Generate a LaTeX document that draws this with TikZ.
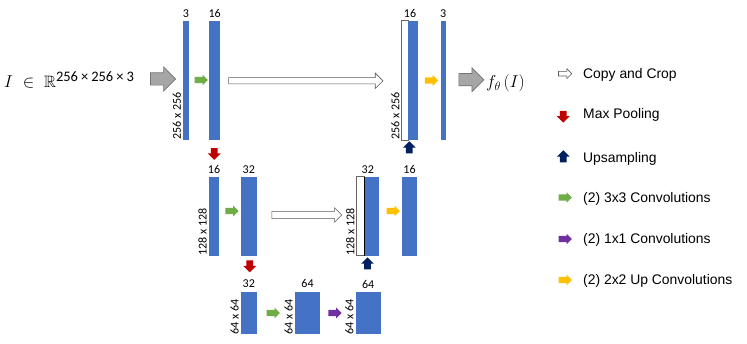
\documentclass[tikz,border=0pt]{standalone}
\usepackage{amssymb}
\usepackage{fontspec}
\newfontfamily\carlito{Carlito}
\newfontfamily\legendfont{Liberation Sans}
\usetikzlibrary{shapes.arrows,positioning,calc}
\definecolor{unetblue}{RGB}{68,114,196}
\definecolor{convgreen}{RGB}{112,173,71}
\definecolor{poolred}{RGB}{192,0,0}
\definecolor{upsnavy}{RGB}{0,32,96}
\definecolor{onepurple}{RGB}{112,48,160}
\definecolor{upcyellow}{RGB}{255,192,0}
\definecolor{iogray}{RGB}{166,166,166}
\tikzset{
  fmapbar/.style 2 args={fill=unetblue, inner sep=0pt, outer sep=0pt, minimum width=#1, minimum height=#2},
  cropbar/.style 2 args={fill=white, draw=black!60, line width=0.6pt, inner sep=0pt, outer sep=0pt, minimum width=#1, minimum height=#2},
  chlabel/.style={font=\carlito\fontsize{12}{12}\selectfont, inner sep=0pt},
  dimlabel/.style={font=\carlito\fontsize{12}{12}\selectfont, rotate=90, anchor=south west, inner xsep=0pt, inner ysep=2pt},
  blockarrow/.style={single arrow, inner xsep=0pt, inner ysep=3pt, outer sep=0pt, minimum height=13.3pt, single arrow head extend=2.2pt},
  convarrow/.style={blockarrow, fill=convgreen},
  onearrow/.style={blockarrow, fill=onepurple},
  upconvarrow/.style={blockarrow, fill=upcyellow},
  poolarrow/.style={blockarrow, fill=poolred, shape border rotate=270, minimum height=11.8pt, inner xsep=3.2pt, inner ysep=0pt, single arrow head extend=3pt},
  upsarrow/.style={blockarrow, fill=upsnavy, shape border rotate=90, minimum height=12pt, inner xsep=3.2pt, inner ysep=0pt, single arrow head extend=3pt},
  copyarrow/.style={blockarrow, fill=white, draw=black!65, line width=0.6pt, inner ysep=2.8pt, single arrow head extend=4.6pt},
  ioarrow/.style={blockarrow, fill=iogray, draw=black!55, line width=0.7pt, minimum height=25pt, inner ysep=5.8pt, single arrow head extend=5.8pt},
  legtext/.style={font=\legendfont\fontsize{13.9}{16}\selectfont, anchor=base west, inner sep=0pt},
}

\begin{document}
\begin{tikzpicture}[x=1pt,y=-1pt]
\useasboundingbox (0,0) rectangle (747,344);
\node[anchor=base west, inner sep=0pt, font=\fontsize{16.5}{18}\selectfont] (inimg) at (4,87.3)
  {$I\ \in\ \mathbb{R}^{\mbox{\carlito\fontsize{14.5}{14.5}\selectfont 256\kern3pt×\kern3pt256\kern3pt×\kern3pt3}}$};
\node[ioarrow] (inarrow) at (160,79) {};
\node[fmapbar={5.5pt}{119.3pt}] (in3) at (186,80.35) {};
\node[fmapbar={10.5pt}{119.3pt}] (e16) at (214.7,80.35) {};
\node[cropbar={6.6pt}{119.3pt}] (cc16) at (405,80.35) {};
\node[fmapbar={10pt}{119.3pt}, right=0pt of cc16] (d16) {};
\node[fmapbar={5pt}{119.3pt}] (out3) at (443.2,80.35) {};
\node[ioarrow] (outarrow) at (468.3,79.7) {};
\node[anchor=base west, inner sep=0pt, font=\fontsize{18}{20}\selectfont] (outimg) at (486,87.5) {$f_{\theta}\,(I)$};
\coordinate (d16top) at ($(cc16.north west)!0.5!(d16.north east)$);
\node[chlabel, above=3.3pt of in3] (in3lab) {3};
\node[chlabel, above=3.3pt of e16] (e16lab) {16};
\node[chlabel, above=3.3pt of d16top] (d16lab) {16};
\node[chlabel, above=3.3pt of out3] (out3lab) {3};
\node[dimlabel] (in3dim) at (in3.south west) {256 x 256};
\node[dimlabel] (cc16dim) at (cc16.south west) {256 x 256};
\node[convarrow] (conv1) at (199.7,80) {};
\node[copyarrow, minimum height=154.3pt] (copy1) at (304.2,80.8) {};
\node[upconvarrow] (upconv1) at (429.8,80.5) {};
\node[poolarrow] (pool1) at (214.3,152.3) {};
\node[upsarrow] (ups1) at (409.3,149) {};
\node[fmapbar={10pt}{79pt}] (m16) at (214,216.2) {};
\node[fmapbar={15.6pt}{79pt}] (m32) at (248.8,216.2) {};
\node[cropbar={7.3pt}{79pt}] (cc32) at (360.3,216.2) {};
\node[fmapbar={15pt}{79pt}, right=0pt of cc32] (d32) {};
\draw[black, line width=0.9pt] (d32.north west) -- (d32.south west);
\node[fmapbar={15.6pt}{79pt}] (u16) at (409.5,216.2) {};
\coordinate (d32top) at ($(cc32.north west)!0.5!(d32.north east)$);
\node[chlabel, above=3.4pt of m16] (m16lab) {16};
\node[chlabel, above=3.4pt of m32] (m32lab) {32};
\node[chlabel, above=3.4pt of d32top] (d32lab) {32};
\node[chlabel, above=3.4pt of u16] (u16lab) {16};
\node[dimlabel] (m16dim) at (m16.south west) {128 x 128};
\node[dimlabel] (cc32dim) at (cc32.south west) {128 x 128};
\node[convarrow] (conv2) at (230.3,211) {};
\node[copyarrow, minimum height=70pt, inner ysep=3.3pt, single arrow head extend=3.6pt] (copy2) at (305,215) {};
\node[upconvarrow] (upconv2) at (391.7,211) {};
\node[poolarrow] (pool2) at (249.7,264.7) {};
\node[upsarrow] (ups2) at (367.5,265) {};
\node[fmapbar={15.6pt}{42.6pt}] (b32) at (248.8,313) {};
\node[fmapbar={25pt}{42.6pt}] (b64) at (307.5,313) {};
\node[fmapbar={25pt}{42.6pt}] (b64r) at (368.2,313) {};
\node[chlabel, above=4pt of b32] (b32lab) {32};
\node[chlabel, above=4pt of b64] (b64lab) {64};
\node[chlabel, above=3pt of b64r] (b64rlab) {64};
\node[dimlabel] (b32dim) at (b32.south west) {64 x 64};
\node[dimlabel] (b64dim) at (b64.south west) {64 x 64};
\node[dimlabel] (b64rdim) at (b64r.south west) {64 x 64};
\node[convarrow] (conv3) at (271.7,313) {};
\node[onearrow] (one1) at (333.3,313) {};
\node[copyarrow, minimum height=13.3pt, inner ysep=2pt, single arrow head extend=2.6pt] (legcopy) at (564,73.7) {};
\node[legtext] (legcopytxt) at (583,78.3) {Copy and Crop};
\node[poolarrow] (legpool) at (563.3,115) {};
\node[legtext] (legpooltxt) at (583,118.5) {Max Pooling};
\node[upsarrow] (legups) at (563.3,158) {};
\node[legtext] (legupstxt) at (583,162.3) {Upsampling};
\node[convarrow] (legconv) at (563.7,197.5) {};
\node[legtext] (legconvtxt) at (583,202.3) {(2) 3x3 Convolutions};
\node[onearrow] (legone) at (563.7,239) {};
\node[legtext] (legonetxt) at (583,243.3) {(2) 1x1 Convolutions};
\node[upconvarrow] (legupconv) at (563.7,280) {};
\node[legtext] (legupconvtxt) at (583,284.3) {(2) 2x2 Up Convolutions};
\end{tikzpicture}
\end{document}
